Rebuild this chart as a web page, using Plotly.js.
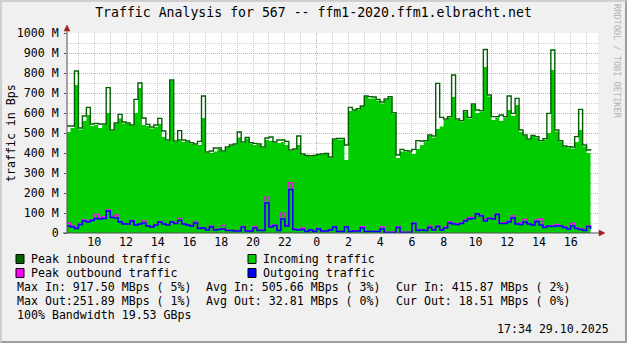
<!DOCTYPE html>
<html><head><meta charset="utf-8">
<script src="https://cdn.plot.ly/plotly-3.0.1.min.js"></script>
<style>
html,body{margin:0;padding:0;background:#f0f0f0;}
#frame{position:absolute;left:0;top:0;width:627px;height:343px;box-sizing:border-box;border-top:2px solid #cfcfcf;border-left:2px solid #cfcfcf;border-right:2px solid #9e9e9e;border-bottom:2px solid #9e9e9e;background:#f0f0f0;}
#chart{width:623px;height:339px;}
</style></head><body><div id="frame"><div id="chart"></div></div>
<script>
// time of first sample in hours relative to midnight 29.10.2025, 15-minute steps
const startHour = -15.75;
const stepHours = 0.25;

const incoming = [
 505,525,740,518,560,590,535,540,525,540,
 600,510,545,573,548,545,535,600,725,540,
 535,522,530,545,480,460,760,455,470,455,
 455,448,440,440,575,400,400,408,420,405,
 425,435,440,478,450,472,448,440,440,425,
 465,460,450,450,455,440,410,415,440,390,
 385,382,385,390,390,395,375,465,468,468,
 365,610,612,618,632,682,673,673,662,648,
 665,678,598,375,408,408,405,395,420,440,
 457,485,478,520,532,565,578,680,565,557,
 607,573,640,600,607,830,682,565,578,560,
 578,615,585,640,505,485,465,485,478,457,
 468,500,815,507,457,430,428,422,455,515,
 432,400,415.87
];
const peakIn = [
 535,535,810,525,585,628,545,548,545,545,
 727,515,550,593,555,550,540,668,750,575,
 543,530,540,573,510,465,765,460,512,465,
 460,452,445,458,685,405,410,425,425,410,
 430,440,445,505,455,478,452,448,445,430,
 475,480,455,465,465,458,415,420,485,395,
 388,386,388,393,395,398,380,470,473,473,
 440,628,615,622,635,685,682,680,668,655,
 670,682,602,390,418,412,410,418,462,460,
 462,490,485,748,578,570,582,790,570,562,
 612,578,645,615,612,917.5,690,582,582,590,
 582,685,598,673,515,490,470,488,482,462,
 472,598,915,515,462,435,432,430,482,618,
 440,415,420
];
const outgoing = [
 35,30,23,42,60,55,63,72,70,72,
 110,78,75,55,45,45,60,40,45,50,
 35,30,40,55,45,40,55,48,63,45,
 40,35,50,23,25,15,30,15,18,20,
 12,12,10,10,30,10,10,25,12,12,
 150,30,38,12,70,35,218,18,15,18,
 7,15,7,20,10,10,15,30,7,7,
 30,7,10,10,25,7,7,7,7,20,
 3,3,3,28,3,3,3,48,12,15,
 12,28,15,32,15,25,50,45,43,48,
 60,70,73,95,85,60,73,70,92,48,
 48,55,75,45,42,55,45,40,57,40,
 27,35,33,35,35,28,20,35,23,18,
 12,32,18.51
];
const peakOut = [
 50,35,25,45,65,58,65,93,75,82,
 115,80,90,57,47,46,63,42,47,62,
 37,32,42,58,47,42,57,50,73,47,
 42,37,55,25,27,17,35,17,20,38,
 14,13,12,12,33,12,11,33,14,13,
 178,35,40,14,98,40,251.89,20,17,25,
 8,16,8,23,11,11,16,32,8,8,
 32,8,11,11,32,8,8,8,8,32,
 4,4,4,32,4,4,4,50,15,16,
 14,35,16,35,16,30,55,48,45,50,
 65,78,76,97,88,68,75,72,95,50,
 52,60,85,47,50,68,48,42,65,70,
 30,37,36,43,37,30,22,48,25,20,
 14,35,20
];

const tickHours  = [-15,-14,-13,-12,-11,-10,-9,-8,-7,-6,-5,-4,-3,-2,-1,0,1,2,3,4,5,6,7,8,9,10,11,12,13,14,15,16,17];
const tickLabels = ['','10','','12','','14','','16','','18','','20','','22','','0','','2','','4','','6','','8','','10','','12','','14','','16',''];
const yTickVals = [0,100,200,300,400,500,600,700,800,900,1000];
const yTickText = ['0','100 M','200 M','300 M','400 M','500 M','600 M','700 M','800 M','900 M','1000 M'];

const legendItems = [
  {label:'Peak inbound traffic', color:'#006600'},
  {label:'Incoming traffic', color:'#00cc00'},
  {label:'Peak outbound traffic', color:'#ff00ff'},
  {label:'Outgoing traffic', color:'#0000ff'}
];
const statLines = [
  ['Max In: 917.50 MBps ( 5%)','Avg In: 505.66 MBps ( 3%)','Cur In: 415.87 MBps ( 2%)'],
  ['Max Out:251.89 MBps ( 1%)','Avg Out: 32.81 MBps ( 0%)','Cur Out: 18.51 MBps ( 0%)']
];
const bandwidthText = '100% Bandwidth 19.53 GBps';
const stampText = '17:34 29.10.2025';

const times = incoming.map((_, i) => startHour + i * stepHours);

// pixel helpers (image coordinates -> paper coordinates)
const PL = 67, PW = 531, PB = 233, PH = 200;
const px = x => (x - PL) / PW;
const py = y => (PB - y) / PH;

const FONT = 'DejaVu Sans Mono, monospace';
const FS = 11.6;

const traces = [
  {x: times, y: incoming, type:'scatter', mode:'lines', line:{shape:'hv', width:0, color:'#00cc00'}, fill:'tozeroy', fillcolor:'#00cc00'},
  {x: times, y: peakIn, type:'scatter', mode:'lines', line:{shape:'hv', width:1.4, color:'#006000'}},
  {x: times, y: peakOut, type:'scatter', mode:'lines', line:{shape:'hv', width:1.3, color:'#ff00ff'}},
  {x: times, y: outgoing, type:'scatter', mode:'lines', line:{shape:'hv', width:1.5, color:'#0000ff'}}
];

const annotations = [];
const shapes = [];
function txt(text, x, y, opts) {
  annotations.push(Object.assign({text:text, x:px(x), y:py(y), xref:'paper', yref:'paper', showarrow:false,
    xanchor:'left', yanchor:'middle', borderpad:0, font:{family:FONT, size:FS, color:'#000'}}, opts||{}));
}
// y axis title
txt('traffic in Bps', 11, 133, {xanchor:'center', textangle:-90});
// watermark
txt('RRDTOOL / TOBI OETIKER', 617, 61, {xanchor:'center', textangle:90, font:{family:FONT, size:8.6, color:'#b4b4b4'}});
// legend
const legCols = [16, 248], legRows = [259, 273];
legendItems.forEach((it, k) => {
  const cx = legCols[k % 2], cy = legRows[Math.floor(k / 2)];
  shapes.push({type:'rect', xref:'paper', yref:'paper', x0:px(cx), x1:px(cx+8), y0:py(cy-4.5), y1:py(cy+4.5),
    fillcolor:it.color, line:{color:'#000', width:1}});
  txt(it.label, cx + 14, cy);
});
const statCols = [16, 205, 395], statRows = [287, 301];
statLines.forEach((row, r) => row.forEach((s, c) => txt(s, statCols[c], statRows[r])));
txt(bandwidthText, 16, 315);
txt(stampText, 610, 329, {xanchor:'right'});

// midnight marker line
shapes.push({type:'line', xref:'x', yref:'paper', x0:0, x1:0, y0:0, y1:1, layer:'below',
  line:{color:'#eaa8a8', width:1, dash:'1px,2px'}});
// axes with arrows
const AX = '#505050', AR = '#a02020';
shapes.push({type:'line', xref:'paper', yref:'paper', x0:px(67), x1:px(67), y0:py(234), y1:py(29), line:{color:AX, width:1}});
shapes.push({type:'line', xref:'paper', yref:'paper', x0:px(63), x1:px(599), y0:py(233), y1:py(233), line:{color:AX, width:1}});
shapes.push({type:'path', xref:'paper', yref:'paper', fillcolor:AR, line:{color:AR, width:0.5},
  path:`M${px(64)},${py(31)} L${px(70)},${py(31)} L${px(67)},${py(25)} Z`});
shapes.push({type:'path', xref:'paper', yref:'paper', fillcolor:AR, line:{color:AR, width:0.5},
  path:`M${px(599)},${py(230)} L${px(599)},${py(236)} L${px(605)},${py(233)} Z`});

const layout = {
  width:623, height:339,
  margin:{l:65, r:27, t:31, b:108, pad:0},
  paper_bgcolor:'#f0f0f0', plot_bgcolor:'#ffffff',
  showlegend:false,
  font:{family:FONT, size:FS, color:'#000'},
  title:{text:'Traffic Analysis for 567 -- ffm1-2020.ffm1.elbracht.net', x:0.5, xref:'container', xanchor:'center',
    y:1 - 10/339, yref:'container', yanchor:'middle', font:{family:FONT, size:13.2, color:'#000'}},
  xaxis:{range:[-15.72, 17.72], tickmode:'array', tickvals:tickHours, ticktext:tickLabels,
    showgrid:true, gridcolor:'#c8c8c8', griddash:'1px,1px', gridwidth:1,
    ticks:'', showline:false, zeroline:false,
    tickfont:{family:FONT, size:FS, color:'#000'}, fixedrange:true},
  yaxis:{range:[0, 1000], tickmode:'array', tickvals:yTickVals, ticktext:yTickText,
    showgrid:true, gridcolor:'#e8a0a0', griddash:'1px,1px', gridwidth:1,
    minor:{dtick:50, tick0:0, showgrid:true, gridcolor:'#d0d0d0', griddash:'1px,1px', ticks:''},
    ticks:'outside', ticklen:2, tickcolor:AX, showline:false, zeroline:false, ticklabelstandoff:3,
    tickfont:{family:FONT, size:FS, color:'#000'}, fixedrange:true},
  annotations:annotations,
  shapes:shapes
};
Plotly.newPlot('chart', traces, layout, {staticPlot:true, displayModeBar:false});
</script></body></html>
